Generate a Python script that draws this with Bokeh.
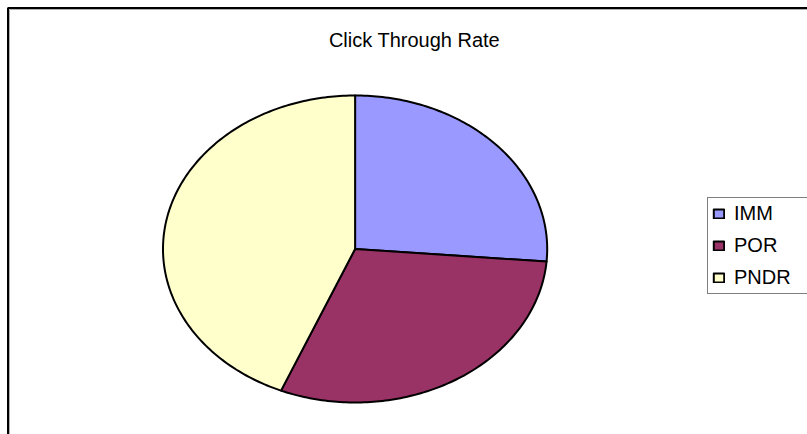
import numpy as np
from bokeh.plotting import figure
from bokeh.models import Range1d, ColumnDataSource, Legend, LegendItem, Label
from bokeh.embed import file_html
from bokeh.resources import INLINE

# Chart data
title = "Click Through Rate"
categories = ["IMM", "POR", "PNDR"]
rates = [26.3, 30.0, 43.7]
colors = ["#9999FF", "#993366", "#FFFFCC"]

W, H = 807, 434
FONT = "Liberation Sans"

# Main ranges are in page pixels (y grows downward)
p = figure(width=W, height=H, output_backend="svg", toolbar_location=None,
           x_range=Range1d(0, W), y_range=Range1d(H, 0), min_border=0)
p.axis.visible = False
p.grid.visible = False
p.outline_line_color = None
p.background_fill_color = "white"
p.border_fill_color = "white"

# Pie space: a unit circle that the ranges stretch into an ellipse
cx, cy, rx, ry = 354.6, 248.5, 192.1, 153.5
p.extra_x_ranges["pie"] = Range1d(-cx / rx, (W - cx) / rx)
p.extra_y_ranges["pie"] = Range1d(-(H - cy) / ry, cy / ry)

vals = np.array(rates, dtype=float)
frac = vals / vals.sum()
cum = np.cumsum(frac)
starts = np.pi / 2 - 2 * np.pi * (cum - frac)   # clockwise from 12 o'clock
ends = np.pi / 2 - 2 * np.pi * cum

xs, ys = [], []
for a0, a1 in zip(starts, ends):
    n = max(8, int(abs(a0 - a1) / (2 * np.pi) * 400))
    t = np.linspace(a0, a1, n)
    xs.append([0.0] + list(np.cos(t)))
    ys.append([0.0] + list(np.sin(t)))

src = ColumnDataSource(dict(xs=xs, ys=ys, color=colors, label=categories))

# Chart area border with a faint shadow line
p.quad(left=9, right=W + 20, top=9, bottom=H + 20, fill_color=None,
       line_color="#b0b0b0", line_width=1)
p.quad(left=7.5, right=W + 20, top=7.5, bottom=H + 20, fill_color=None,
       line_color="black", line_width=2)

pie = p.patches(xs="xs", ys="ys", source=src, fill_color="color",
                line_color="black", line_width=2, line_join="round",
                x_range_name="pie", y_range_name="pie")

p.add_layout(Label(x=414, y=39, text=title, text_align="center",
                   text_baseline="alphabetic", text_font=FONT,
                   text_font_size="20px", text_color="black"))

items = [LegendItem(label=c, renderers=[pie], index=i)
         for i, c in enumerate(categories)]
legend = Legend(items=items, location=(707, H - 294), margin=0,
                border_line_color="black", border_line_width=1,
                background_fill_color="white", background_fill_alpha=1,
                label_text_font=FONT, label_text_font_size="20px",
                label_text_color="black",
                glyph_width=13, glyph_height=11, label_standoff=9,
                spacing=9, padding=4, label_width=100, label_height=20)
p.add_layout(legend)

open("out.html", "w").write(file_html(p, INLINE))
